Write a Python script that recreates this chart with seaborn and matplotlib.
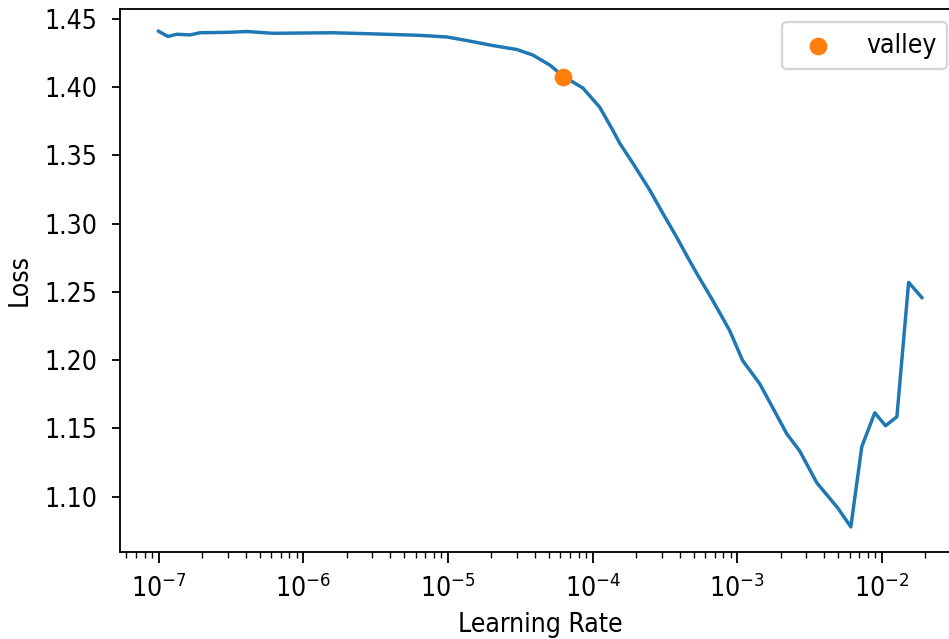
import numpy as np
import pandas as pd
import seaborn as sns
import matplotlib
matplotlib.use("Agg")
import matplotlib.pyplot as plt
from matplotlib import font_manager as fm

# --------------------------- DATA ---------------------------
learning_rates = [
    1.00e-7, 1.16e-7, 1.34e-7, 1.65e-7, 1.93e-7, 2.97e-7, 4.08e-7, 6.18e-7,
    9.95e-7, 1.60e-6, 3.23e-6, 6.40e-6, 9.84e-6, 1.35e-5, 2.05e-5, 3.00e-5,
    3.86e-5, 5.07e-5, 6.24e-5, 8.57e-5, 1.12e-4, 1.38e-4, 1.54e-4, 1.90e-4,
    2.49e-4, 3.06e-4, 3.82e-4, 4.55e-4, 5.25e-4, 6.78e-4, 8.87e-4, 1.09e-3,
    1.43e-3, 1.76e-3, 2.20e-3, 2.70e-3, 3.55e-3, 4.95e-3, 6.10e-3, 7.26e-3,
    8.93e-3, 1.06e-2, 1.27e-2, 1.53e-2, 1.89e-2,
]
losses = [
    1.4410, 1.4372, 1.4388, 1.4383, 1.4399, 1.4402, 1.4408, 1.4395,
    1.4397, 1.4399, 1.4390, 1.4380, 1.4368, 1.4342, 1.4305, 1.4276,
    1.4236, 1.4162, 1.4082, 1.3994, 1.3854, 1.3685, 1.3590, 1.3443,
    1.3245, 1.3076, 1.2900, 1.2753, 1.2636, 1.2437, 1.2217, 1.1997,
    1.1828, 1.1652, 1.1461, 1.1336, 1.1102, 1.0918, 1.0779, 1.1366,
    1.1615, 1.1520, 1.1586, 1.2570, 1.2459,
]
valley_lr = [6.24e-5]
valley_loss = [1.4078]

df = pd.DataFrame({"lr": learning_rates, "loss": losses})

# --------------------------- STYLE ---------------------------
# the reference text is a bit taller than it is wide -> condensed DejaVu if present
cond_path = fm.findfont(fm.FontProperties(family="DejaVu Sans", stretch="condensed"),
                        fallback_to_default=True)
if "Condensed" in cond_path:
    plt.rcParams["font.stretch"] = "condensed"
    plt.rcParams["font.size"] = 11.5
    plt.rcParams["mathtext.fontset"] = "custom"
    plt.rcParams["mathtext.rm"] = "DejaVu Sans:stretch=condensed"
    plt.rcParams["mathtext.it"] = "DejaVu Sans:italic:stretch=condensed"
    plt.rcParams["mathtext.bf"] = "DejaVu Sans:bold:stretch=condensed"
    plt.rcParams["mathtext.sf"] = "DejaVu Sans:stretch=condensed"
else:
    plt.rcParams["font.size"] = 10.8

plt.rcParams.update({
    "xtick.major.size": 4.8,
    "xtick.minor.size": 2.6,
    "ytick.major.size": 3.5,
    "xtick.major.pad": 5.0,
    "xtick.minor.pad": 5.0,
    "ytick.major.pad": 6.5,
})

# --------------------------- PLOT ---------------------------
dpi = 165
fig = plt.figure(figsize=(949 / dpi, 639 / dpi), dpi=dpi)
ax = fig.add_axes([120.4 / 949, 1 - 552 / 639, 839.6 / 949, 543 / 639])

sns.lineplot(data=df, x="lr", y="loss", ax=ax, color="C0",
             estimator=None, sort=False, linewidth=1.5)
sns.scatterplot(x=valley_lr, y=valley_loss, ax=ax, color="C1", s=60,
                linewidth=0, label="valley", zorder=3)

ax.set_xscale("log")
ax.set_xlim(10 ** -7.264, 10 ** -1.460)
ax.set_ylim(1.0595, 1.4573)
ax.set_xlabel("Learning Rate", labelpad=4)
ax.set_ylabel("Loss", labelpad=5)
ax.legend(loc="upper right")

fig.savefig("out.png", dpi=dpi)
